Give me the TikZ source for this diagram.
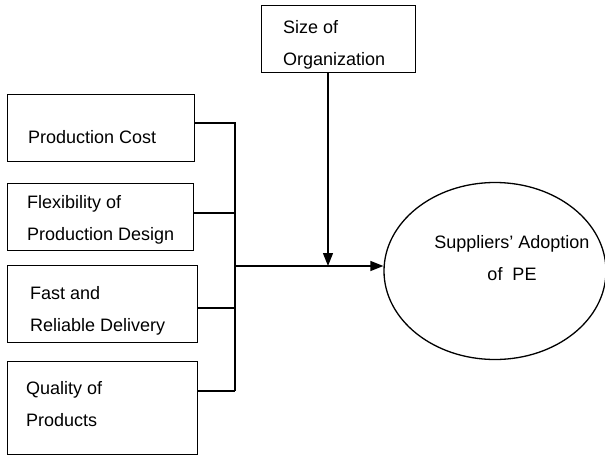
\documentclass[tikz,border=0pt]{standalone}
\usepackage{fontspec}
\setmainfont{Liberation Sans}
\usetikzlibrary{positioning, calc, arrows.meta, shapes.geometric}
\tikzset{
    factorbox/.style={rectangle, draw=black, line width=1.3pt, anchor=north west, inner sep=0pt},
    boxtext/.style={anchor=base west, align=left, inner sep=0pt, font=\fontsize{18}{32}\selectfont},
    link/.style={line width=1.3pt, draw=black},
    arrow/.style={-{Triangle[length=13pt, width=10pt]}, line width=1.3pt},
}

\begin{document}
\begin{tikzpicture}[x=1pt, y=-1pt]
    \useasboundingbox (0,0) rectangle (605,455);

    % Fattori a sinistra
    \node[factorbox, minimum width=187pt, minimum height=67pt] (cost) at (7,94) {};
    \node[factorbox, minimum width=186pt, minimum height=67pt] (flex) at (7,183) {};
    \node[factorbox, minimum width=190pt, minimum height=77pt] (delivery) at (7,265) {};
    \node[factorbox, minimum width=190pt, minimum height=93pt] (quality) at (7,361) {};
    % testo: base = ultima riga
    \node[boxtext] (costtxt) at (28,143) {Production Cost};
    \node[boxtext] (flextxt) at (27,240) {Flexibility of\\Production Design};
    \node[boxtext] (deliverytxt) at (30,331) {Fast and\\Reliable Delivery};
    \node[boxtext] (qualitytxt) at (26,426) {Quality of\\Products};

    % Moderatore in alto
    \node[factorbox, minimum width=154pt, minimum height=67pt] (size) at (261,5) {};
    \node[boxtext] (sizetxt) at (283,65) {Size of\\Organization};

    % Variabile dipendente
    \node[ellipse, draw=black, line width=1.3pt, minimum width=222pt, minimum height=177pt] (adopt) at (495,271) {};
    \node[boxtext, anchor=base, align=center] (adopttxt) at (512,280) {Suppliers’ Adoption\\of\ \ PE};

    % Bus verticale
    \coordinate (busTop) at (235,123);
    \coordinate (bus2) at (235,213);
    \coordinate (bus3) at (235,308);
    \coordinate (busBot) at (235,391);
    \coordinate (join) at (235,266);
    \coordinate (mod) at (328,266);

    \draw[link] (cost.east |- busTop) -- (busTop) -- (busBot);
    \draw[link] (flex.east |- bus2) -- (bus2);
    \draw[link] (delivery.east |- bus3) -- (bus3);
    \draw[link] (quality.east |- busBot) -- (busBot);

    % Frecce
    \draw[arrow] (join) -- (join -| adopt.west);
    \draw[arrow] (size.south -| mod) -- (mod);
\end{tikzpicture}
\end{document}
